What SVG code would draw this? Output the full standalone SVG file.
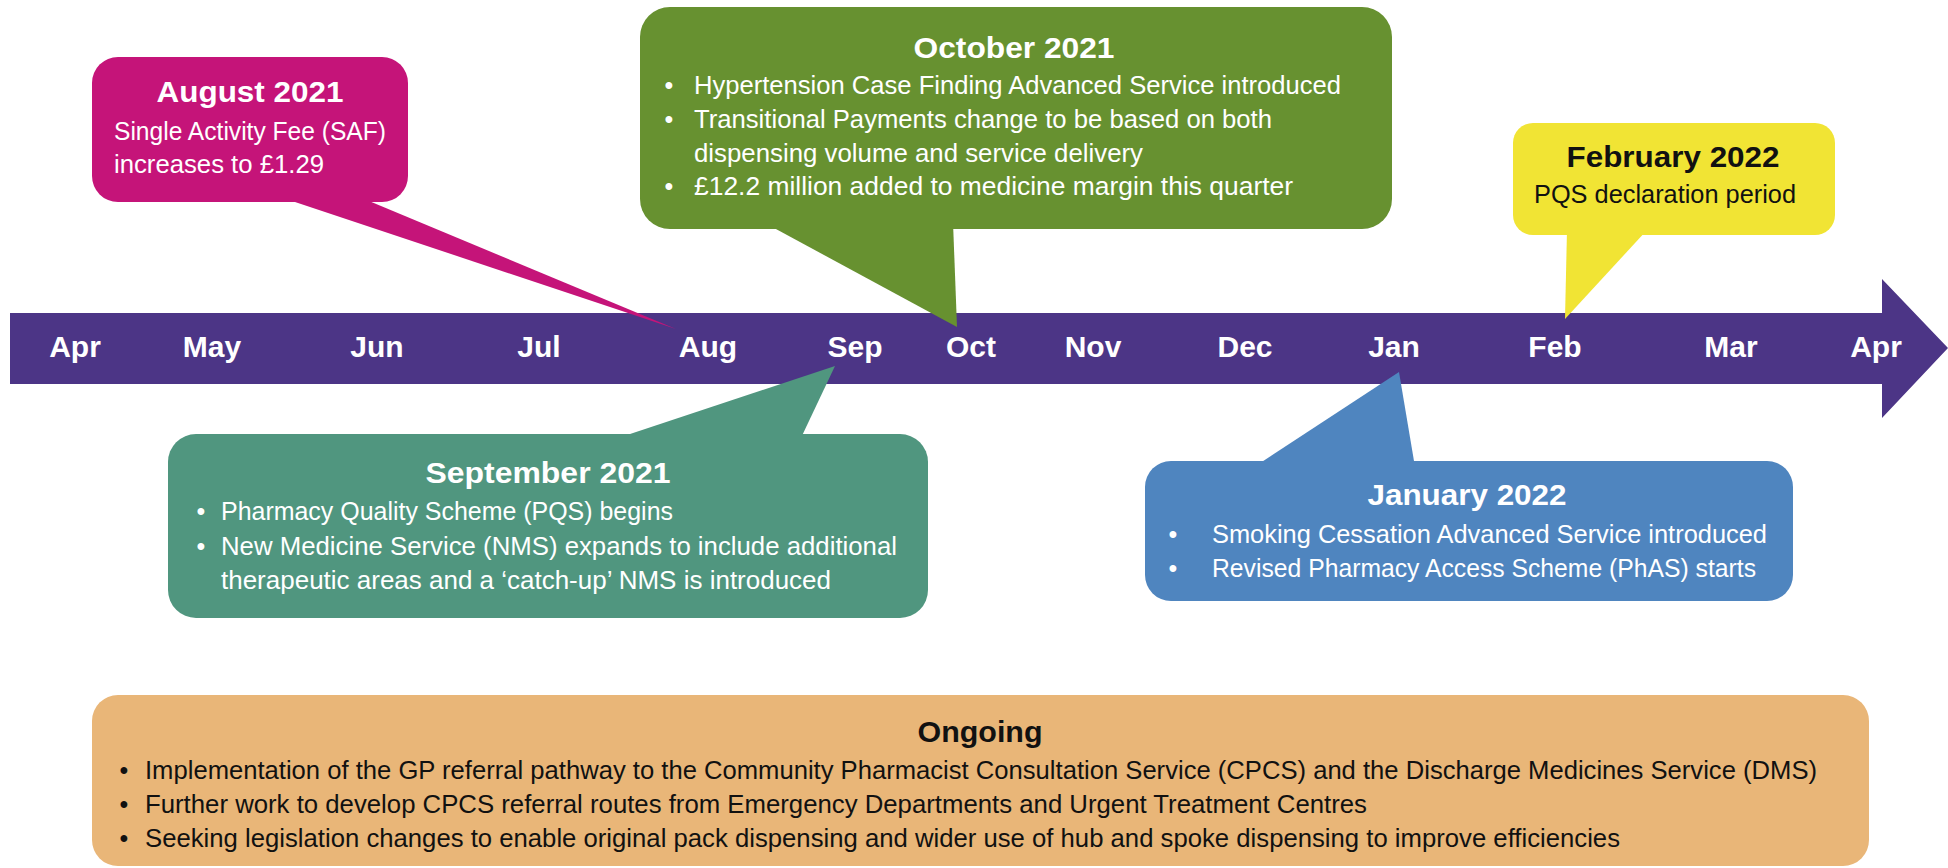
<svg xmlns="http://www.w3.org/2000/svg" width="1948" height="868" viewBox="0 0 1948 868">
<style>
text{font-family:"Liberation Sans",Arial,sans-serif}
.ttl{font-weight:bold;font-size:30px;text-anchor:middle}
.bd{font-size:25px}
.mo{font-weight:bold;font-size:30px;fill:#fff;text-anchor:middle}
.w{fill:#fff}
.k{fill:#111}
.bu{text-anchor:middle}
</style>
<rect width="1948" height="868" fill="#fff"/>
<g id="timeline">
<polygon points="10,313 1882,313 1882,279 1948,348 1882,418 1882,384 10,384" fill="#4C3586"/>
<text class="mo" x="75" y="357">Apr</text>
<text class="mo" x="212" y="357">May</text>
<text class="mo" x="377" y="357">Jun</text>
<text class="mo" x="539" y="357">Jul</text>
<text class="mo" x="708" y="357">Aug</text>
<text class="mo" x="855" y="357">Sep</text>
<text class="mo" x="971" y="357">Oct</text>
<text class="mo" x="1093" y="357">Nov</text>
<text class="mo" x="1245" y="357">Dec</text>
<text class="mo" x="1394" y="357">Jan</text>
<text class="mo" x="1555" y="357">Feb</text>
<text class="mo" x="1731" y="357">Mar</text>
<text class="mo" x="1876" y="357">Apr</text>
</g>
<g id="connectors">
<polygon points="277,196 357,196 676,329" fill="#C51479"/>
<polygon points="763,222 953,222 957,327" fill="#679130"/>
<polygon points="1567,230 1647,230 1565,319" fill="#F1E434"/>
<polygon points="612,440 800,440 835,366" fill="#50967F"/>
<polygon points="1254,467 1415,467 1399,372" fill="#4F85BF"/>
</g>
<g id="aug2021">
<rect x="92" y="57" width="316" height="145" rx="26" fill="#C51479"/>
<text class="ttl w" x="250" y="102" textLength="187" lengthAdjust="spacingAndGlyphs">August 2021</text>
<text class="bd w" x="114" y="140" textLength="272" lengthAdjust="spacingAndGlyphs">Single Activity Fee (SAF)</text>
<text class="bd w" x="114" y="173" textLength="210" lengthAdjust="spacingAndGlyphs">increases to £1.29</text>
</g>
<g id="oct2021">
<rect x="640" y="7" width="752" height="222" rx="30" fill="#679130"/>
<text class="ttl w" x="1014" y="58" textLength="201" lengthAdjust="spacingAndGlyphs">October 2021</text>
<text class="bd w bu" x="669" y="94">•</text>
<text class="bd w" x="694" y="94" textLength="647" lengthAdjust="spacingAndGlyphs">Hypertension Case Finding Advanced Service introduced</text>
<text class="bd w bu" x="669" y="128">•</text>
<text class="bd w" x="694" y="128" textLength="578" lengthAdjust="spacingAndGlyphs">Transitional Payments change to be based on both</text>
<text class="bd w" x="694" y="162" textLength="449" lengthAdjust="spacingAndGlyphs">dispensing volume and service delivery</text>
<text class="bd w bu" x="669" y="195">•</text>
<text class="bd w" x="694" y="195" textLength="599" lengthAdjust="spacingAndGlyphs">£12.2 million added to medicine margin this quarter</text>
</g>
<g id="feb2022">
<rect x="1513" y="123" width="322" height="112" rx="20" fill="#F1E434"/>
<text class="ttl k" x="1673" y="167" textLength="213" lengthAdjust="spacingAndGlyphs">February 2022</text>
<text class="bd k" x="1534" y="203" textLength="262" lengthAdjust="spacingAndGlyphs">PQS declaration period</text>
</g>
<g id="sep2021">
<rect x="168" y="434" width="760" height="184" rx="28" fill="#50967F"/>
<text class="ttl w" x="548" y="483" textLength="245" lengthAdjust="spacingAndGlyphs">September 2021</text>
<text class="bd w bu" x="201" y="520">•</text>
<text class="bd w" x="221" y="520" textLength="452" lengthAdjust="spacingAndGlyphs">Pharmacy Quality Scheme (PQS) begins</text>
<text class="bd w bu" x="201" y="555">•</text>
<text class="bd w" x="221" y="555" textLength="676" lengthAdjust="spacingAndGlyphs">New Medicine Service (NMS) expands to include additional</text>
<text class="bd w" x="221" y="589" textLength="610" lengthAdjust="spacingAndGlyphs">therapeutic areas and a ‘catch-up’ NMS is introduced</text>
</g>
<g id="jan2022">
<rect x="1145" y="461" width="648" height="140" rx="26" fill="#4F85BF"/>
<text class="ttl w" x="1467" y="505" textLength="199" lengthAdjust="spacingAndGlyphs">January 2022</text>
<text class="bd w bu" x="1173" y="543">•</text>
<text class="bd w" x="1212" y="543" textLength="555" lengthAdjust="spacingAndGlyphs">Smoking Cessation Advanced Service introduced</text>
<text class="bd w bu" x="1173" y="577">•</text>
<text class="bd w" x="1212" y="577" textLength="544" lengthAdjust="spacingAndGlyphs">Revised Pharmacy Access Scheme (PhAS) starts</text>
</g>
<g id="ongoing">
<rect x="92" y="695" width="1777" height="171" rx="26" fill="#E9B678"/>
<text class="ttl k" x="980" y="742" textLength="125" lengthAdjust="spacingAndGlyphs">Ongoing</text>
<text class="bd k bu" x="124" y="779">•</text>
<text class="bd k" x="145" y="779" textLength="1672" lengthAdjust="spacingAndGlyphs">Implementation of the GP referral pathway to the Community Pharmacist Consultation Service (CPCS) and the Discharge Medicines Service (DMS)</text>
<text class="bd k bu" x="124" y="813">•</text>
<text class="bd k" x="145" y="813" textLength="1222" lengthAdjust="spacingAndGlyphs">Further work to develop CPCS referral routes from Emergency Departments and Urgent Treatment Centres</text>
<text class="bd k bu" x="124" y="847">•</text>
<text class="bd k" x="145" y="847" textLength="1475" lengthAdjust="spacingAndGlyphs">Seeking legislation changes to enable original pack dispensing and wider use of hub and spoke dispensing to improve efficiencies</text>
</g>
</svg>
